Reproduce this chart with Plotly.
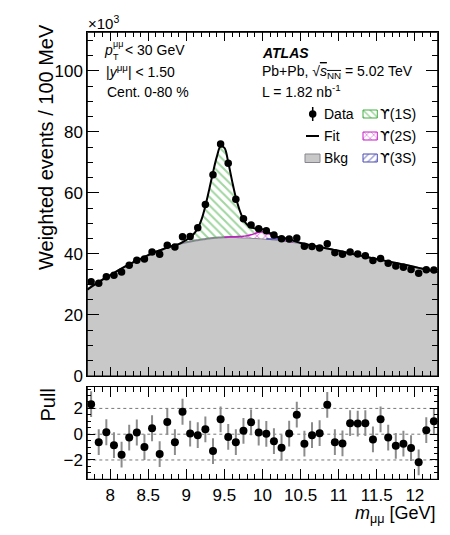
import plotly.graph_objects as go

FONT = "Liberation Sans, Arial, Helvetica, sans-serif"
W, H = 450, 535

# ---------------- binned data (100 MeV bins) ----------------
MASS = [7.75, 7.85, 7.95, 8.05, 8.15, 8.25, 8.35, 8.45, 8.55, 8.65,
        8.75, 8.85, 8.95, 9.05, 9.15, 9.25, 9.35, 9.45, 9.55, 9.65,
        9.75, 9.85, 9.95, 10.05, 10.15, 10.25, 10.35, 10.45, 10.55, 10.65,
        10.75, 10.85, 10.95, 11.05, 11.15, 11.25, 11.35, 11.45, 11.55, 11.65,
        11.75, 11.85, 11.95, 12.05, 12.15, 12.25]

# weighted events / 100 MeV, in units of 10^3
EVENTS = [30.9, 30.4, 32.5, 33.0, 34.1, 36.3, 37.9, 38.3, 40.6, 39.9,
          42.8, 42.3, 45.6, 45.7, 48.6, 56.2, 65.9, 76.0, 69.7, 57.9,
          51.5, 49.5, 48.2, 47.6, 46.2, 45.0, 44.9, 45.2, 42.5, 42.4,
          41.9, 43.3, 40.4, 39.9, 40.6, 40.0, 39.4, 37.8, 38.5, 36.9,
          36.0, 35.6, 34.9, 33.7, 34.8, 34.7]

PULL = [2.33, -0.62, 0.15, -0.85, -1.59, -0.26, 0.13, -1.00, 0.46, -1.54,
        0.95, -0.62, 1.74, 0.05, -0.08, 0.38, -1.31, 1.15, -0.21, -0.62,
        0.26, 0.92, 0.13, 0.03, -0.54, -1.05, 0.05, 1.51, -0.74, -0.08,
        0.08, 2.28, -0.62, -0.72, 0.85, 0.82, 0.85, -0.41, 1.15, -0.26,
        -0.90, -0.74, -1.08, -2.18, 0.31, 1.00]
PULL_ERR = 1.0

# ---------------- fit components (10^3 events / 100 MeV) ----------------
CURVE_MASS = [7.7, 7.8, 7.9, 8.0, 8.1, 8.2, 8.3, 8.4, 8.5, 8.6, 8.7, 8.8, 8.9,
              9.00, 9.05, 9.10, 9.15, 9.20, 9.25, 9.30, 9.35, 9.40, 9.45, 9.50,
              9.55, 9.60, 9.65, 9.70, 9.75, 9.80, 9.85, 9.90, 9.95, 10.00, 10.05,
              10.10, 10.15, 10.20, 10.25, 10.30, 10.35, 10.40, 10.45, 10.50,
              10.55, 10.60,
              10.7, 10.8, 10.9, 11.0, 11.1, 11.2, 11.3, 11.4, 11.5, 11.6, 11.7,
              11.8, 11.9, 12.0, 12.1, 12.2, 12.3]

BKG = [28.3, 30.0, 31.6, 33.0, 34.5, 35.9, 37.2, 38.4, 39.6, 40.7, 41.6, 42.5, 43.2,
       43.8, 44.05, 44.3, 44.5, 44.7, 44.9, 45.05, 45.2, 45.3, 45.4, 45.45,
       45.5, 45.5, 45.5, 45.45, 45.4, 45.35, 45.3, 45.2, 45.15, 45.05, 44.95,
       44.85, 44.75, 44.6, 44.45, 44.3, 44.1, 43.9, 43.7, 43.5,
       43.25, 43.0,
       42.5, 42.0, 41.5, 41.0, 40.45, 39.9, 39.35, 38.8, 38.3, 37.8, 37.3,
       36.8, 36.25, 35.7, 35.15, 34.6, 34.05]

# the peak window 9.00 - 10.60 GeV inside CURVE_MASS
PEAK_START, PEAK_STOP = 13, 46
PEAK_MASS = CURVE_MASS[PEAK_START:PEAK_STOP]

UPS1S = [0.8, 1.4, 2.3, 3.9, 6.6, 10.8, 16.0, 21.5, 26.5, 29.8, 29.3,
         24.5, 18.4, 12.8, 8.6, 5.5, 3.6, 2.5, 1.7, 1.1, 0.8, 0.55,
         0.4, 0.3, 0.2, 0.15, 0.1, 0.05, 0.0, 0.0, 0.0, 0.0, 0.0]
UPS2S = [0.0, 0.0, 0.0, 0.0, 0.0, 0.0, 0.0, 0.0, 0.0, 0.0, 0.0,
         0.05, 0.1, 0.15, 0.25, 0.4, 0.6, 0.95, 1.45, 1.95, 2.2, 2.0,
         1.5, 0.95, 0.5, 0.25, 0.1, 0.05, 0.0, 0.0, 0.0, 0.0, 0.0]
UPS3S = [0.0, 0.0, 0.0, 0.0, 0.0, 0.0, 0.0, 0.0, 0.0, 0.0, 0.0,
         0.0, 0.0, 0.0, 0.0, 0.0, 0.0, 0.0, 0.0, 0.0, 0.0, 0.0,
         0.05, 0.1, 0.25, 0.45, 0.6, 0.6, 0.45, 0.25, 0.1, 0.05, 0.0]

# tick labels
Y_TICKS = [0, 20, 40, 60, 80, 100]
Y_TICK_TEXT = ["0", "20", "40", "60", "80", "100"]
X_TICKS = [8, 8.5, 9, 9.5, 10, 10.5, 11, 11.5, 12]
X_TICK_TEXT = ["8", "8.5", "9", "9.5", "10", "10.5", "11", "11.5", "12"]
PULL_TICKS = [-2, 0, 2]
PULL_TICK_TEXT = ["\u22122", "0", "2"]
PULL_LINES = [-2, 0, 2]

# colours
BKG_FILL = "#c8c8c8"
BKG_LINE = "#85858f"
C1S = "#44ad44"
C2S = "#c41cc4"
C3S = "#4b4bb0"
ERR_GREY = "#8c8c8c"

# ---------------- frame geometry (pixels) ----------------
X_RANGE = [7.7, 12.3]
Y_RANGE = [0, 112.6]
PULL_RANGE = [-3.5, 3.7]
FX0, FX1 = 87.3, 437.7          # left / right frame edges
TOP_Y0, TOP_Y1 = 32.3, 376.0    # upper pad top / bottom
PULL_Y0, PULL_Y1 = 386.5, 479.3  # pull pad top / bottom

# ---------------- derived curves ----------------
bkg_win = BKG[PEAK_START:PEAK_STOP]
fit_win = [b + a + c + d for b, a, c, d in zip(bkg_win, UPS1S, UPS2S, UPS3S)]
FIT = BKG[:PEAK_START] + fit_win + BKG[PEAK_STOP:]
top2s = [b + s for b, s in zip(bkg_win, UPS2S)]
top3s = [b + s for b, s in zip(bkg_win, UPS3S)]


def support(values):
    idx = [i for i, v in enumerate(values) if v > 0]
    return max(idx[0] - 1, 0), min(idx[-1] + 2, len(values))


def px(x):
    return x / W


def py(y):
    return 1 - y / H


# pixel -> upper-pad data coordinates (used for the legend keys)
def mx(xp):
    return X_RANGE[0] + (xp - FX0) / (FX1 - FX0) * (X_RANGE[1] - X_RANGE[0])


def my(yp):
    return Y_RANGE[0] + (TOP_Y1 - yp) / (TOP_Y1 - TOP_Y0) * (Y_RANGE[1] - Y_RANGE[0])


fig = go.Figure()
skip = dict(hoverinfo="skip", showlegend=False)

# background (filled)
fig.add_trace(go.Scatter(x=CURVE_MASS, y=BKG, mode="lines",
                         line=dict(color=BKG_LINE, width=2, shape="spline"),
                         fill="tozeroy", fillcolor=BKG_FILL, **skip))

# Upsilon(1S): between background and total fit
fig.add_trace(go.Scatter(x=PEAK_MASS, y=bkg_win, mode="lines",
                         line=dict(width=0, shape="spline"), **skip))
fig.add_trace(go.Scatter(x=PEAK_MASS, y=fit_win, mode="lines",
                         line=dict(width=0, shape="spline"), fill="tonexty",
                         fillcolor="rgba(0,0,0,0)",
                         fillpattern=dict(shape="\\", fgcolor=C1S, bgcolor="rgba(0,0,0,0)",
                                          size=6, solidity=0.35), **skip))

# Upsilon(2S) and Upsilon(3S) on top of the background
for comp, top, col, shp in ((UPS2S, top2s, C2S, "x"), (UPS3S, top3s, C3S, "/")):
    a, b = support(comp)
    fig.add_trace(go.Scatter(x=PEAK_MASS[a:b], y=bkg_win[a:b], mode="lines",
                             line=dict(width=0, shape="spline"), **skip))
    fig.add_trace(go.Scatter(x=PEAK_MASS[a:b], y=top[a:b], mode="lines",
                             line=dict(color=col, width=1.5, shape="spline"),
                             fill="tonexty", fillcolor="rgba(0,0,0,0)",
                             fillpattern=dict(shape=shp, fgcolor=col, bgcolor="white",
                                              size=6, solidity=0.3), **skip))

# total fit
fig.add_trace(go.Scatter(x=CURVE_MASS, y=FIT, mode="lines",
                         line=dict(color="black", width=2, shape="spline"), **skip))

# data
fig.add_trace(go.Scatter(x=MASS, y=EVENTS, mode="markers",
                         marker=dict(color="black", size=7.5), **skip))

# pulls
fig.add_trace(go.Scatter(x=MASS, y=PULL, mode="markers", xaxis="x2", yaxis="y2",
                         marker=dict(color="black", size=8),
                         error_y=dict(type="constant", value=PULL_ERR, color=ERR_GREY,
                                      thickness=2, width=0), **skip))


# ---------------- legend keys ----------------
def box(x0, x1, y0, y1, **kw):
    fig.add_trace(go.Scatter(x=[mx(x0), mx(x1), mx(x1), mx(x0), mx(x0)],
                             y=[my(y0), my(y0), my(y1), my(y1), my(y0)],
                             mode="lines", fill="toself", **kw, **skip))


fig.add_trace(go.Scatter(x=[mx(312.7)], y=[my(114)], mode="markers",
                         marker=dict(color="black", size=7.5),
                         error_y=dict(type="constant", value=my(107) - my(114),
                                      color="black", thickness=1.5, width=0), **skip))
fig.add_trace(go.Scatter(x=[mx(306), mx(319)], y=[my(136), my(136)], mode="lines",
                         line=dict(color="black", width=2), **skip))
box(305, 320, 154, 162.5, line=dict(color=BKG_LINE, width=1), fillcolor=BKG_FILL)
for yc, col, shp in ((114, C1S, "\\"), (136, C2S, "x"), (158, C3S, "/")):
    box(363, 377.3, yc - 4, yc + 4, line=dict(color=col, width=1),
        fillcolor="rgba(0,0,0,0)",
        fillpattern=dict(shape=shp, fgcolor=col, bgcolor="white", size=5, solidity=0.3))

# ---------------- axes ----------------
axis_common = dict(showline=True, linecolor="black", linewidth=1, mirror="allticks",
                   ticks="inside", tickcolor="black", tickwidth=1, showgrid=False,
                   zeroline=False, automargin=False, layer="above traces",
                   tickfont=dict(family=FONT, size=17, color="black"),
                   fixedrange=True)
XDOM = [px(FX0), px(FX1)]

fig.update_layout(
    width=W, height=H, margin=dict(l=0, r=0, t=0, b=0, autoexpand=False),
    paper_bgcolor="white", plot_bgcolor="white",
    font=dict(family=FONT, color="black"),
    xaxis=dict(domain=XDOM, range=X_RANGE, anchor="y", tickvals=X_TICKS,
               showticklabels=False, ticklen=9,
               minor=dict(ticks="inside", dtick=0.1, tick0=7.7, ticklen=5,
                          tickcolor="black"), **axis_common),
    yaxis=dict(domain=[py(TOP_Y1), py(TOP_Y0)], range=Y_RANGE, anchor="x",
               tickvals=Y_TICKS, ticktext=Y_TICK_TEXT, ticklen=12,
               minor=dict(ticks="inside", dtick=5, tick0=0, ticklen=6,
                          tickcolor="black"), **axis_common),
    xaxis2=dict(domain=XDOM, range=X_RANGE, anchor="y2", tickvals=X_TICKS,
                ticktext=X_TICK_TEXT, ticklen=10,
                minor=dict(ticks="inside", dtick=0.1, tick0=7.7, ticklen=5,
                           tickcolor="black"), **axis_common),
    yaxis2=dict(domain=[py(PULL_Y1), py(PULL_Y0)], range=PULL_RANGE, anchor="x2",
                tickvals=PULL_TICKS, ticktext=PULL_TICK_TEXT, ticklen=8,
                minor=dict(ticks="inside", dtick=0.5, tick0=0, ticklen=4,
                           tickcolor="black"), **axis_common),
)

for lvl in PULL_LINES:
    fig.add_shape(type="line", xref="x2", yref="y2", x0=X_RANGE[0], x1=X_RANGE[1],
                  y0=lvl, y1=lvl, line=dict(color="#777777", width=1, dash="dot"),
                  layer="below")

# pad frames
for y0, y1 in ((TOP_Y0, TOP_Y1), (PULL_Y0, PULL_Y1)):
    fig.add_shape(type="rect", xref="paper", yref="paper",
                  x0=px(FX0), x1=px(FX1), y0=py(y1), y1=py(y0),
                  line=dict(color="black", width=1), fillcolor="rgba(0,0,0,0)",
                  layer="above")


# ---------------- text ----------------
def label(text, x, y, size=14, xanchor="left", yanchor="middle", angle=0):
    fig.add_annotation(text=text, x=px(x), y=py(y), xref="paper", yref="paper",
                       xanchor=xanchor, yanchor=yanchor, showarrow=False,
                       textangle=angle, font=dict(family=FONT, size=size, color="black"))


UPS = "<span style='font-family:DejaVu Sans'>\u03d2</span>"

label("\u00d710<sup>3</sup>", 86, 22, size=15)
label("Weighted events / 100 MeV", 46, 22, size=20, xanchor="center", yanchor="top", angle=-90)
label("Pull", 47, 387, size=20, xanchor="center", yanchor="top", angle=-90)
label("<i>m</i><sub>\u03bc\u03bc</sub> [GeV]", 438, 514, size=18, xanchor="right")

label("<i>p</i>", 102, 50)
label("\u03bc\u03bc", 110.5, 44, size=9)
label("T", 111, 57, size=9)
label("< 30 GeV", 123, 50)
label("|<i>y</i><sup>\u03bc\u03bc</sup>| < 1.50", 104, 71)
label("Cent. 0-80 %", 105, 92)

label("<b><i>ATLAS</i></b>", 259.5, 53)
label("Pb+Pb, \u221a<span style='text-decoration:overline'><i>s</i><sub>NN</sub></span>"
      " = 5.02 TeV", 259.5, 72)
label("L = 1.82 nb<sup>-1</sup>", 259.5, 91)

label("Data", 321.5, 114)
label("Fit", 321.5, 136)
label("Bkg", 321.5, 158)
label(UPS + "(1S)", 378.3, 114)
label(UPS + "(2S)", 378.3, 136)
label(UPS + "(3S)", 378.3, 158)

fig.write_html("out.html")
